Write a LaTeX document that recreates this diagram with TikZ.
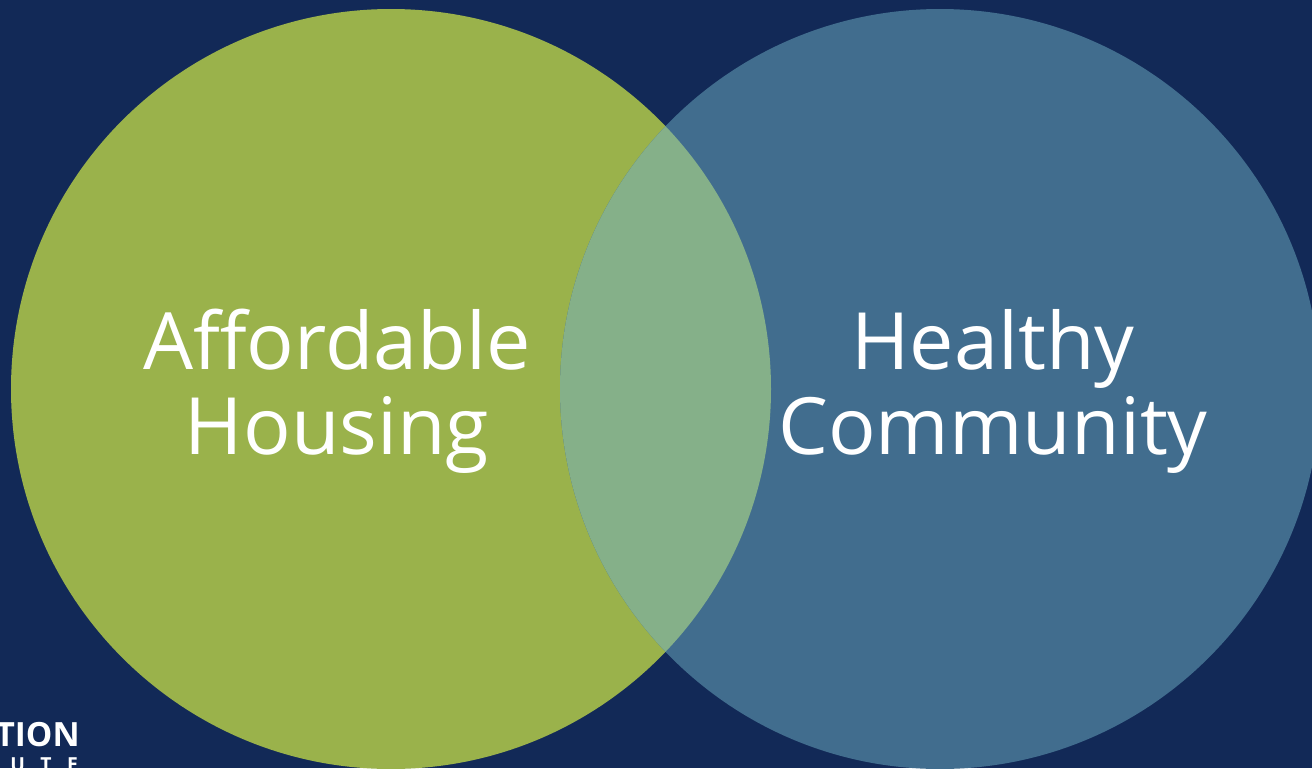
\documentclass[tikz,border=0pt]{standalone}
\usepackage{fontspec}
\setmainfont{Open Sans}
\usetikzlibrary{positioning}

\definecolor{navy}{RGB}{18,41,87}
\definecolor{housegreen}{RGB}{154,178,75}
\definecolor{communityblue}{RGB}{65,109,142}
\definecolor{overlapgreen}{RGB}{133,176,137}

\begin{document}
\begin{tikzpicture}
[x=0.02cm,y=-0.02cm,
circle label/.style={text=white,align=center,font=\fontsize{45}{48.4}\selectfont,inner sep=0pt},
logo text/.style={text=white,inner sep=0pt}]

\useasboundingbox (0,0) rectangle (1312,768);
\clip (0,0) rectangle (1312,768);
\fill[navy] (0,0) rectangle (1312,768);

% the two circles and their overlap
\fill[housegreen] (391,389) circle [radius=380];
\fill[communityblue] (940,389) circle [radius=380];
\begin{scope}
\clip (391,389) circle [radius=380];
\fill[overlapgreen] (940,389) circle [radius=380];
\end{scope}

\node[circle label] (housing) at (337,391) {Affordable\\Housing};
\node[circle label] (community) at (993,391) {Healthy\\Community};

% cut-off logo, bottom left
\node[logo text,anchor=base east,font=\fontsize{19}{20}\bfseries\selectfont] (tion) at (80,746) {TION};
\node[logo text,anchor=north west,font=\fontsize{11}{12}\bfseries\addfontfeature{LetterSpace=80}\selectfont] (ute) at (10,757) {UTE};

\end{tikzpicture}
\end{document}
